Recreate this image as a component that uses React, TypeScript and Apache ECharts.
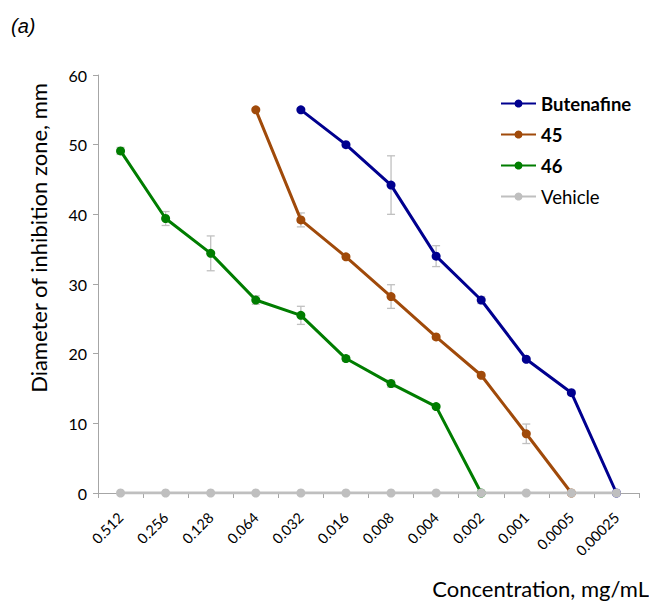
import React, { useEffect, useRef } from "react";
import * as echarts from "echarts";

const categories = ["0.512", "0.256", "0.128", "0.064", "0.032", "0.016", "0.008", "0.004", "0.002", "0.001", "0.0005", "0.00025"];

const butenafine = [null, null, null, null, 55, 50, 44.2, 34, 27.7, 19.2, 14.4, 0];
const butenafineErr = [0, 0, 0, 0, 0, 0, 4.2, 1.5, 0.5, 0.3, 0.3, 0];
const c45 = [null, null, null, 55, 39.2, 33.9, 28.2, 22.4, 16.9, 8.5, 0, null];
const c45Err = [0, 0, 0, 0, 1.0, 0.3, 1.7, 0.3, 0.3, 1.4, 0, 0];
const c46 = [49.1, 39.4, 34.4, 27.7, 25.5, 19.3, 15.7, 12.4, 0, null, null, null];
const c46Err = [0.5, 1.0, 2.5, 0.6, 1.3, 0.4, 0.5, 0.3, 0, 0, 0, 0];
const vehicle = [0, 0, 0, 0, 0, 0, 0, 0, 0, 0, 0, 0];

const seriesNames = ["Butenafine", "45", "46", "Vehicle"];
const colors = ["#00008f", "#a04a0a", "#007d00", "#bfbfbf"];

function errData(vals: (number | null)[], errs: number[]) {
  const out: number[][] = [];
  vals.forEach((v, i) => {
    if (v !== null && errs[i] > 0) out.push([i, v - errs[i], v + errs[i]]);
  });
  return out;
}

export default function App() {
  const ref = useRef<HTMLDivElement>(null);
  useEffect(() => {
    if (!ref.current) return;
    const chart = echarts.init(ref.current, undefined, { renderer: "svg" });
    const errSeries = (vals: (number | null)[], errs: number[]) => ({
      type: "custom",
      z: 1,
      silent: true,
      data: errData(vals, errs),
      renderItem: (params: any, api: any) => {
        const x = api.value(0);
        const lo = api.coord([x, api.value(1)]);
        const hi = api.coord([x, api.value(2)]);
        const w = 4;
        const st = { stroke: "#c0c0c0", lineWidth: 1.3 };
        return {
          type: "group",
          children: [
            { type: "line", shape: { x1: lo[0], y1: lo[1], x2: hi[0], y2: hi[1] }, style: st },
            { type: "line", shape: { x1: lo[0] - w, y1: lo[1], x2: lo[0] + w, y2: lo[1] }, style: st },
            { type: "line", shape: { x1: hi[0] - w, y1: hi[1], x2: hi[0] + w, y2: hi[1] }, style: st },
          ],
        };
      },
    });
    const lineSeries = (name: string, data: (number | null)[], color: string, z: number) => ({
      type: "line",
      name,
      data,
      z,
      symbol: "circle",
      symbolSize: 9,
      connectNulls: false,
      lineStyle: { color, width: 3 },
      itemStyle: { color },
    });
    chart.setOption({
      animation: false,
      textStyle: { fontFamily: "Lato" },
      grid: { left: 98, right: 10, top: 75, bottom: 110 },
      legend: {
        orient: "vertical",
        left: 495,
        top: 89,
        itemGap: 12,
        itemWidth: 35,
        itemHeight: 10,
        data: seriesNames,
        formatter: (name: string) => (name === "Vehicle" ? `{n|${name}}` : `{b|${name}}`),
        textStyle: {
          rich: {
            b: { fontWeight: "bold", fontSize: 18.5, lineHeight: 20, color: "#000", fontFamily: "Lato" },
            n: { fontSize: 18.5, lineHeight: 20, color: "#000", fontFamily: "Lato" },
          },
        },
      },
      xAxis: {
        type: "category",
        data: categories,
        boundaryGap: true,
        axisLine: { lineStyle: { color: "#a6a6a6", width: 1 } },
        axisTick: { show: true, length: 5, lineStyle: { color: "#a6a6a6" } },
        axisLabel: { rotate: 45, fontSize: 14.5, color: "#000", margin: 22, fontFamily: "Lato", interval: 0 },
        splitLine: { show: false },
      },
      yAxis: {
        type: "value",
        min: 0,
        max: 60,
        interval: 10,
        axisLine: { show: true, lineStyle: { color: "#a6a6a6", width: 1 } },
        axisTick: { show: true, length: 5, lineStyle: { color: "#a6a6a6" } },
        axisLabel: { fontSize: 16, color: "#000", margin: 11, fontFamily: "Lato" },
        splitLine: { show: false },
      },
      graphic: [
        { type: "text", left: 11, top: 16, style: { text: "(a)", fontSize: 20, fontStyle: "italic", fontFamily: "Liberation Sans", fill: "#000" } },
        {
          type: "text",
          x: 38,
          y: 238,
          rotation: Math.PI / 2,
          style: { text: "Diameter of inhibition zone, mm", fontSize: 22, fontFamily: "Lato", fill: "#000", align: "center", verticalAlign: "middle" },
        },
        {
          type: "text",
          x: 649,
          y: 588,
          style: { text: "Concentration, mg/mL", fontSize: 22, fontFamily: "Lato", fill: "#000", align: "right", verticalAlign: "middle" },
        },
      ],
      series: [
        errSeries(butenafine, butenafineErr),
        errSeries(c45, c45Err),
        errSeries(c46, c46Err),
        lineSeries("Butenafine", butenafine, colors[0], 3),
        lineSeries("45", c45, colors[1], 3),
        lineSeries("46", c46, colors[2], 3),
        lineSeries("Vehicle", vehicle, colors[3], 4),
      ],
    });
    return () => chart.dispose();
  }, []);
  return <div ref={ref} style={{ width: 649, height: 603, position: "absolute", left: 0, top: 0 }} />;
}
